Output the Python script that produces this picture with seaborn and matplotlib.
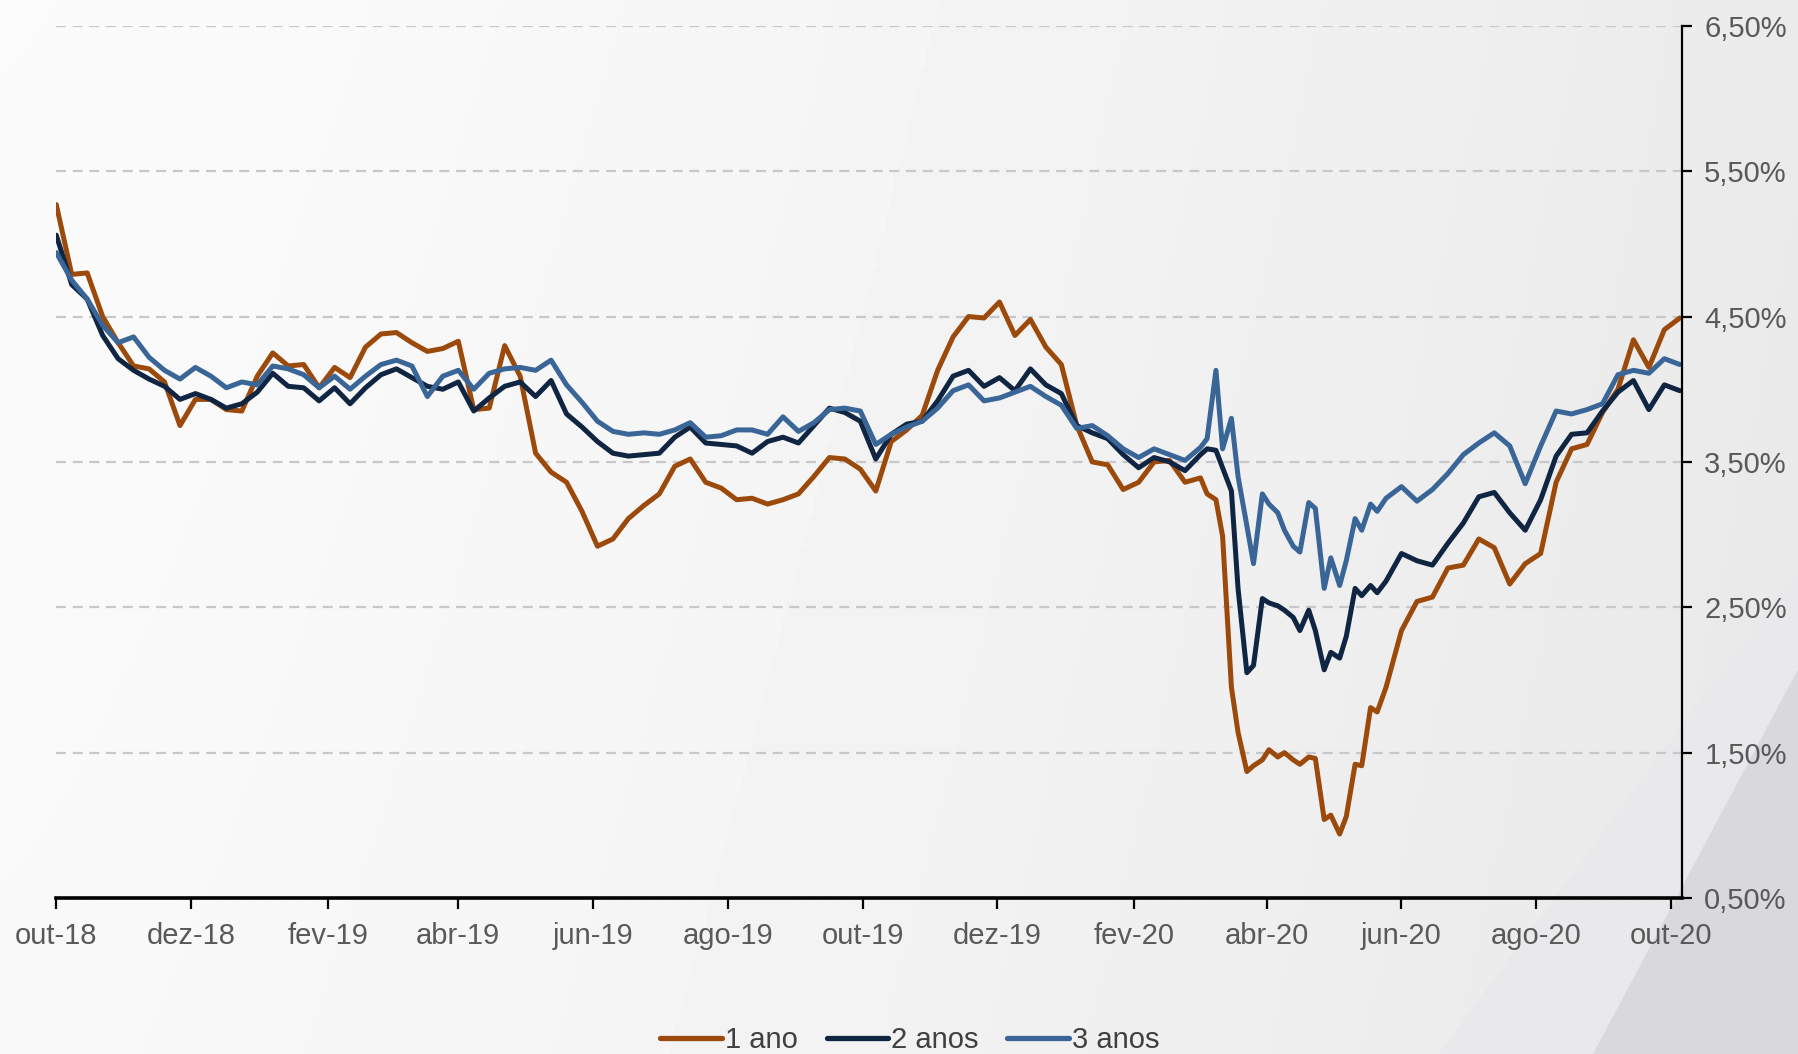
import matplotlib
matplotlib.use("Agg")
import matplotlib.pyplot as plt
from matplotlib.patches import Polygon
from matplotlib.lines import Line2D
import numpy as np
import pandas as pd
import seaborn as sns

# datas: semanal (segundas) + quintas no período mais volátil (mar-mai 2020)
semanas = pd.date_range("2018-10-01", "2020-10-05", freq="W-MON")
quintas = pd.date_range("2020-03-05", "2020-05-21", freq="W-THU")
datas = semanas.append(quintas).sort_values()

ano1 = [
    5.27, 4.79, 4.80, 4.50, 4.32, 4.16, 4.14, 4.05, 3.75, 3.93,
    3.93, 3.86, 3.85, 4.09, 4.25, 4.16, 4.17, 4.01, 4.15, 4.08,
    4.29, 4.38, 4.39, 4.32, 4.26, 4.28, 4.33, 3.86, 3.87, 4.30,
    4.09, 3.56, 3.43, 3.36, 3.16, 2.92, 2.97, 3.11, 3.20, 3.28,
    3.47, 3.52, 3.36, 3.32, 3.24, 3.25, 3.21, 3.24, 3.28, 3.40,
    3.53, 3.52, 3.45, 3.30, 3.64, 3.72, 3.82, 4.13, 4.36, 4.50,
    4.49, 4.60, 4.37, 4.48, 4.29, 4.17, 3.75, 3.50, 3.48, 3.31,
    3.36, 3.50, 3.51, 3.36,
    3.39, 3.28, 3.24, 2.99, 1.95, 1.64, 1.37, 1.41, 1.45, 1.52,
    1.47, 1.50, 1.45, 1.42, 1.47, 1.46, 1.04, 1.07, 0.94, 1.06,
    1.42, 1.41, 1.81, 1.78,
    1.95, 2.34, 2.54, 2.57, 2.77, 2.79, 2.97, 2.91, 2.66, 2.80,
    2.87, 3.36, 3.59, 3.62, 3.84, 4.00, 4.34, 4.15, 4.41, 4.49,
]
ano2 = [
    5.06, 4.72, 4.62, 4.37, 4.21, 4.13, 4.07, 4.02, 3.93, 3.97,
    3.93, 3.87, 3.90, 3.98, 4.11, 4.02, 4.01, 3.92, 4.01, 3.90,
    4.01, 4.10, 4.14, 4.08, 4.02, 4.00, 4.05, 3.85, 3.94, 4.02,
    4.05, 3.95, 4.06, 3.83, 3.74, 3.64, 3.56, 3.54, 3.55, 3.56,
    3.67, 3.74, 3.63, 3.62, 3.61, 3.56, 3.64, 3.67, 3.63, 3.75,
    3.87, 3.84, 3.78, 3.52, 3.69, 3.76, 3.78, 3.92, 4.09, 4.13,
    4.02, 4.08, 3.99, 4.14, 4.03, 3.97, 3.75, 3.70, 3.66, 3.55,
    3.46, 3.53, 3.50, 3.44,
    3.55, 3.59, 3.58, 3.46, 3.30, 2.63, 2.05, 2.10, 2.56, 2.53,
    2.51, 2.48, 2.43, 2.34, 2.48, 2.34, 2.07, 2.19, 2.15, 2.30,
    2.63, 2.58, 2.65, 2.60,
    2.68, 2.87, 2.82, 2.79, 2.94, 3.08, 3.26, 3.29, 3.15, 3.03,
    3.24, 3.54, 3.69, 3.70, 3.85, 3.98, 4.06, 3.86, 4.03, 3.99,
]
ano3 = [
    4.94, 4.75, 4.62, 4.44, 4.32, 4.36, 4.22, 4.13, 4.07, 4.15,
    4.09, 4.01, 4.05, 4.03, 4.16, 4.14, 4.10, 4.01, 4.09, 4.00,
    4.09, 4.17, 4.20, 4.16, 3.95, 4.09, 4.13, 4.00, 4.11, 4.14,
    4.15, 4.13, 4.20, 4.03, 3.91, 3.78, 3.71, 3.69, 3.70, 3.69,
    3.72, 3.77, 3.67, 3.68, 3.72, 3.72, 3.69, 3.81, 3.71, 3.77,
    3.86, 3.87, 3.85, 3.62, 3.69, 3.74, 3.78, 3.87, 3.99, 4.03,
    3.92, 3.94, 3.98, 4.02, 3.95, 3.89, 3.73, 3.75, 3.68, 3.59,
    3.53, 3.59, 3.55, 3.51,
    3.60, 3.66, 4.13, 3.59, 3.80, 3.40, 3.06, 2.80, 3.28, 3.21,
    3.15, 3.03, 2.92, 2.88, 3.22, 3.18, 2.63, 2.84, 2.65, 2.82,
    3.11, 3.03, 3.21, 3.16,
    3.25, 3.33, 3.23, 3.31, 3.42, 3.55, 3.63, 3.70, 3.61, 3.35,
    3.61, 3.85, 3.83, 3.86, 3.90, 4.10, 4.13, 4.11, 4.21, 4.17,
]

prazos = ["1 ano", "2 anos", "3 anos"]
cores = ["#9c4a0c", "#0f2542", "#3a6597"]

tick_datas = ["2018-10-01", "2018-12-01", "2019-02-01", "2019-04-01", "2019-06-01",
              "2019-08-01", "2019-10-01", "2019-12-01", "2020-02-01", "2020-04-01",
              "2020-06-01", "2020-08-01", "2020-10-01"]
tick_rotulos = ["out-18", "dez-18", "fev-19", "abr-19", "jun-19", "ago-19", "out-19",
                "dez-19", "fev-20", "abr-20", "jun-20", "ago-20", "out-20"]
y_ticks = [0.5, 1.5, 2.5, 3.5, 4.5, 5.5, 6.5]

df = pd.DataFrame({"data": list(datas) * 3,
                   "taxa": ano1 + ano2 + ano3,
                   "prazo": [p for p in prazos for _ in range(len(datas))]})

sns.set_theme(style="white")
plt.rcParams["font.family"] = ["Liberation Sans", "DejaVu Sans"]

fig = plt.figure(figsize=(17.98, 10.54), dpi=100)

# fundo em degradê cinza claro com a cunha no canto inferior direito
bg = fig.add_axes([0, 0, 1, 1], zorder=-10)
gx = np.linspace(0, 1, 400)
gy = np.linspace(0, 1, 200)
GX, GY = np.meshgrid(gx, gy)
grad = 0.985 - 0.065 * GX ** 1.3 - 0.01 * (1 - GY)
bg.imshow(grad, extent=[0, 1, 0, 1], origin="lower", cmap="gray", vmin=0, vmax=1,
          aspect="auto")
bg.add_patch(Polygon([(0.80, 0), (1, 0.46), (1, 0)], closed=True, color="#e9e9ec", lw=0))
bg.add_patch(Polygon([(0.886, 0), (1, 0.365), (1, 0)], closed=True, color="#d9d9dd", lw=0))
bg.set_xlim(0, 1)
bg.set_ylim(0, 1)
bg.axis("off")

ax = fig.add_axes([0.0313, 0.148, 0.9042, 0.8275])
ax.set_facecolor("none")

sns.lineplot(data=df, x="data", y="taxa", hue="prazo", palette=cores,
             linewidth=3.6, ax=ax, legend=False)

ax.set_xlim(pd.Timestamp("2018-10-01"), pd.Timestamp("2020-10-06"))
ax.set_ylim(0.5, 6.5)
ax.set_xlabel("")
ax.set_ylabel("")

ax.set_xticks(pd.to_datetime(tick_datas))
ax.set_xticklabels(tick_rotulos)
ax.set_yticks(y_ticks)
ax.set_yticklabels([f"{v:.2f}".replace(".", ",") + "%" for v in y_ticks])

ax.yaxis.tick_right()
ax.tick_params(axis="y", right=True, left=False, direction="out", length=7, width=1.6,
               color="black", labelsize=21, labelcolor="#595959", pad=9)
ax.tick_params(axis="x", bottom=True, direction="out", length=8, width=1.6,
               color="black", labelsize=21, labelcolor="#595959", pad=9)

ax.grid(axis="y", linestyle=(0, (4.5, 3)), linewidth=1.6, color="#c8c8cc")
ax.grid(axis="x", visible=False)

for s in ["left", "top"]:
    ax.spines[s].set_visible(False)
ax.spines["right"].set_color("black")
ax.spines["right"].set_linewidth(1.6)
ax.spines["bottom"].set_color("black")
ax.spines["bottom"].set_linewidth(2.6)

handles = [Line2D([], [], color=c, linewidth=3.8) for c in cores]
fig.legend(handles, prazos, loc="center", bbox_to_anchor=(0.506, 0.013), ncol=3,
           frameon=False, fontsize=21, handlelength=2.1, handletextpad=0.1,
           columnspacing=1.0, labelcolor="#404040")

fig.savefig("out.png", dpi=100)
